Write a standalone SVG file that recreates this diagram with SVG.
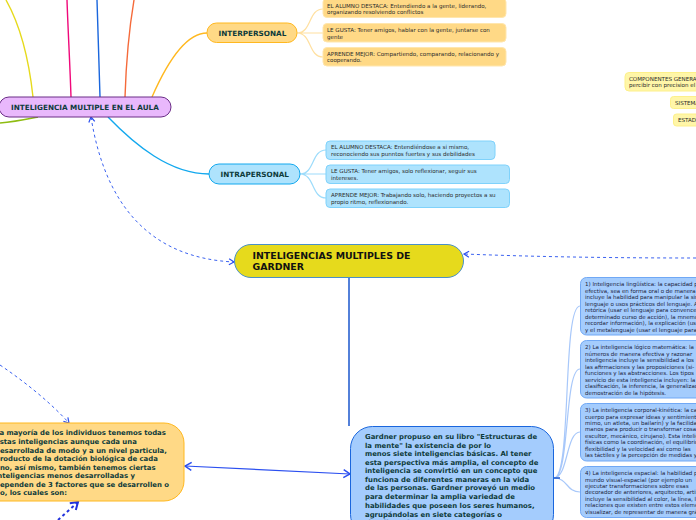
<svg xmlns="http://www.w3.org/2000/svg" width="696" height="520" viewBox="0 0 696 520">
<style>
text{font-family:"DejaVu Sans",Verdana,sans-serif}
.b{font-weight:700;fill:#0e3b3b}
.m{font-size:7.25px}
.t{font-size:7.25px}
.h{font-size:9.4px;font-weight:700;fill:#111}
.g{font-size:6.9px;font-weight:700;fill:#0e3b3b}
.s{font-size:5.55px;fill:#2a2a2a}
.r{font-size:5.5px;fill:#1c2440}
.n{fill:none}
.o{fill:#ffd986;stroke:#ffe6ae;stroke-width:1}
.c{fill:#aee3fd;stroke:#7fd2fb;stroke-width:1}
.u{fill:#a4ccfd;stroke:#70a8f5;stroke-width:1}
.y{fill:#fff6a8;stroke:#fdf08a;stroke-width:1}
.d{fill:none;stroke:#3b62f0;stroke-width:1;stroke-dasharray:3 3}
</style>
<defs>
<marker id="a" markerWidth="8" markerHeight="8" refX="6" refY="4" orient="auto-start-reverse" markerUnits="userSpaceOnUse"><path d="M1 1L6 4L1 7" fill="none" stroke="#2b4ff0" stroke-width="1.2"/></marker>
<marker id="as" markerWidth="10" markerHeight="10" refX="8" refY="5" orient="auto-start-reverse" markerUnits="userSpaceOnUse"><path d="M1.500 1L8 5L1.500 9" fill="none" stroke="#2b4ff0" stroke-width="1.500"/></marker>
<marker id="at" markerWidth="12" markerHeight="12" refX="9" refY="6" orient="auto" markerUnits="userSpaceOnUse"><path d="M2 1.500L9 6L2 10.500" fill="none" stroke="#2233dd" stroke-width="2"/></marker>
</defs>
<g id="connectors">
<path class="n" stroke="#e6da1c" stroke-width="1.400" d="M6 0C20 25 29 60 33 97"/>
<path class="n" stroke="#f0087a" stroke-width="1.400" d="M67 0C68 30 70 65 71 97"/>
<path class="n" stroke="#1a66dd" stroke-width="1.400" d="M97 0C98 30 99 65 100 97"/>
<path class="n" stroke="#f56a3a" stroke-width="1.400" d="M134 0C129 30 126 65 125 97"/>
<path class="n" stroke="#ffb81f" stroke-width="1.400" d="M152 97C166 65 185 33 207 33"/>
<path class="n" stroke="#8ebc12" stroke-width="1.400" d="M0 123C14 122 28 119 38 117"/>
<path class="n" stroke="#12a8ee" stroke-width="1.400" d="M108 117C135 145 170 174 209 174"/>
<path class="n" stroke="#ffe0a0" stroke-width="1.200" d="M297 33C312 33 308 9 323 9M297 33H323M297 33C312 33 308 57 323 57"/>
<path class="n" stroke="#9ddcfb" stroke-width="1.200" d="M300 174C315 174 311 150 326 150M300 174H326M300 174C315 174 311 198 326 198"/>
<path class="n" stroke="#1a56cc" stroke-width="1.500" d="M349 277V426"/>
<path class="n" stroke="#a8c8fa" stroke-width="1.200" d="M554 478C572 478 562 306 580 306M554 478C570 478 564 369 580 369M554 478C568 478 566 432 580 432M554 478C568 478 566 492 580 492"/>
<path class="n" stroke="#1a56cc" stroke-width="1.500" d="M554 478H560"/>
<path class="d" marker-start="url(#a)" marker-end="url(#a)" d="M91 117C105 205 150 258 234 262"/>
<path class="d" marker-end="url(#a)" d="M696 258C620 258 540 257 464 254"/>
<path class="d" marker-end="url(#a)" d="M0 365C25 382 50 402 69 423"/>
<path class="n" stroke="#2b4ff0" stroke-width="1.200" marker-start="url(#as)" marker-end="url(#as)" d="M185 466L350 474"/>
<path fill="none" stroke="#2233dd" stroke-width="2" stroke-dasharray="3 3" marker-end="url(#at)" d="M58 520L78 502"/>
</g>
<g id="n-aula"><rect x="-1" y="97" width="172" height="20" rx="10" fill="#e9b8fc" stroke="#6a2c86"/><text class="b m" x="11" y="109.500">INTELIGENCIA MULTIPLE EN EL AULA</text></g>
<g id="n-inter"><rect x="207" y="23" width="90" height="19.500" rx="9.500" fill="#ffd986" stroke="#ffb81f"/><text class="b t" x="218.500" y="35.500">INTERPERSONAL</text></g>
<g id="n-inter1"><rect class="o" x="323" y="-2" width="183" height="19.500" rx="4"/><text class="s" x="327" y="8">EL ALUMNO DESTACA: Entendiendo a la gente, liderando,</text><text class="s" x="327" y="14">organizando resolviendo conflictos</text></g>
<g id="n-inter2"><rect class="o" x="323" y="23.500" width="183" height="18.500" rx="4"/><text class="s" x="327" y="32">LE GUSTA: Tener amigos, hablar con la gente, juntarse con</text><text class="s" x="327" y="38.500">gente</text></g>
<g id="n-inter3"><rect class="o" x="323" y="47.500" width="183" height="18.500" rx="4"/><text class="s" x="327" y="56">APRENDE MEJOR: Compartiendo, comparando, relacionando y</text><text class="s" x="327" y="62">cooperando.</text></g>
<g id="n-intra"><rect x="209" y="164" width="91" height="20" rx="10" fill="#aee3fd" stroke="#12a8ee"/><text class="b t" x="220.500" y="177">INTRAPERSONAL</text></g>
<g id="n-intra1"><rect class="c" x="326" y="141" width="169" height="18.500" rx="4"/><text class="s" x="331" y="149">EL ALUMNO DESTACA: Entendiéndose a si mismo,</text><text class="s" x="331" y="156">reconociendo sus punntos fuertes y sus debilidades</text></g>
<g id="n-intra2"><rect class="c" x="326" y="165" width="183.500" height="18.500" rx="4"/><text class="s" x="331" y="173">LE GUSTA: Tener amigos, solo reflexionar, seguir sus</text><text class="s" x="331" y="180">intereses.</text></g>
<g id="n-intra3"><rect class="c" x="326" y="189" width="183.500" height="18.500" rx="4"/><text class="s" x="331" y="197">APRENDE MEJOR: Trabajando solo, haciendo proyectos a su</text><text class="s" x="331" y="204">propio ritmo, reflexionando.</text></g>
<g id="n-comp"><rect class="y" x="625" y="72.500" width="90" height="18.500" rx="4"/><text class="s" x="629" y="80.500">COMPONENTES GENERALES</text><text class="s" x="629" y="87">percibir con precision el</text></g>
<g id="n-sist"><rect class="y" x="670.500" y="96.500" width="40" height="12" rx="3"/><text class="s" x="675" y="105">SISTEMA</text></g>
<g id="n-esta"><rect class="y" x="673.500" y="114" width="40" height="12" rx="3"/><text class="s" x="678" y="122">ESTADO</text></g>
<g id="n-title"><rect x="234.500" y="244.500" width="229" height="33" rx="16.500" fill="#e6da1c" stroke="#4a90c8"/><text class="h" x="252.500" y="259">INTELIGENCIAS MULTIPLES DE</text><text class="h" x="252.500" y="270">GARDNER</text></g>
<g id="n-gardner"><rect x="350.500" y="426.500" width="203" height="110" rx="22" fill="#a4ccfd" stroke="#1a66dd"/>
<text class="g"><tspan x="365" y="439">Gardner propuso en su libro "Estructuras de</tspan><tspan x="365" y="447.500">la mente" la existencia de por lo</tspan><tspan x="365" y="456">menos siete inteligencias básicas. Al tener</tspan><tspan x="365" y="465">esta perspectiva más amplia, el concepto de</tspan><tspan x="365" y="473">inteligencia se convirtió en un concepto que</tspan><tspan x="365" y="482">funciona de diferentes maneras en la vida</tspan><tspan x="365" y="490">de las personas. Gardner proveyó un medio</tspan><tspan x="365" y="499">para determinar la amplia variedad de</tspan><tspan x="365" y="507.500">habilidades que poseen los seres humanos,</tspan><tspan x="365" y="516.500">agrupándolas en siete categorías o</tspan><tspan x="365" y="525">"inteligencias".</tspan></text></g>
<g id="n-mayoria"><rect x="-40" y="423" width="224" height="78" rx="20" fill="#ffd986" stroke="#ffb81f"/>
<text class="g"><tspan x="-5" y="435">La mayoría de los individuos tenemos todas</tspan><tspan x="-5" y="444">estas inteligencias aunque cada una</tspan><tspan x="-5" y="452.500">desarrollada de modo y a un nivel particula,</tspan><tspan x="-5" y="461">producto de la dotación biológica de cada</tspan><tspan x="-5" y="469.500">uno, así mismo, también tenemos ciertas</tspan><tspan x="-5" y="478">inteligencias menos desarrolladas y</tspan><tspan x="-5" y="486.500">dependen de 3 factores que se desarrollen o</tspan><tspan x="-5" y="495">no, los cuales son:</tspan></text></g>
<g id="n-i1"><rect class="u" x="580.500" y="277.500" width="130" height="57.500" rx="6"/><text class="r"><tspan x="585" y="286">1) Inteligencia lingüística: la capacidad para</tspan><tspan x="585" y="292.500">efectiva, sea en forma oral o de manera</tspan><tspan x="585" y="299">incluye la habilidad para manipular la sintaxis</tspan><tspan x="585" y="305.500">lenguaje o usos prácticos del lenguaje. Algunos</tspan><tspan x="585" y="312">retórica (usar el lenguaje para convencer</tspan><tspan x="585" y="318.500">determinado curso de acción), la mnemónica</tspan><tspan x="585" y="325">recordar información), la explicación (usar</tspan><tspan x="585" y="331.500">y el metalenguaje (usar el lenguaje para</tspan></text></g>
<g id="n-i2"><rect class="u" x="580.500" y="340.500" width="130" height="57.500" rx="6"/><text class="r"><tspan x="585" y="349">2) La inteligencia lógico matemática: la</tspan><tspan x="585" y="355.500">números de manera efectiva y razonar</tspan><tspan x="585" y="362">inteligencia incluye la sensibilidad a los</tspan><tspan x="585" y="368.500">las afirmaciones y las proposiciones (si-</tspan><tspan x="585" y="375">funciones y las abstracciones. Los tipos</tspan><tspan x="585" y="381.500">servicio de esta inteligencia incluyen: la</tspan><tspan x="585" y="388">clasificación, la inferencia, la generalización</tspan><tspan x="585" y="394.500">demostración de la hipótesis.</tspan></text></g>
<g id="n-i3"><rect class="u" x="580.500" y="403.500" width="130" height="57.500" rx="6"/><text class="r"><tspan x="585" y="412">3) La inteligencia corporal-kinética: la capacidad</tspan><tspan x="585" y="418.500">cuerpo para expresar ideas y sentimientos</tspan><tspan x="585" y="425">mimo, un atleta, un bailarín) y la facilidad</tspan><tspan x="585" y="431">manos para producir o transformar cosas</tspan><tspan x="585" y="437.500">escultor, mecánico, cirujano). Esta inteligencia</tspan><tspan x="585" y="444">físicas como la coordinación, el equilibrio</tspan><tspan x="585" y="450.500">flexibilidad y la velocidad así como las</tspan><tspan x="585" y="457">las táctiles y la percepción de medidas y</tspan></text></g>
<g id="n-i4"><rect class="u" x="580.500" y="466.500" width="130" height="51" rx="6"/><text class="r"><tspan x="585" y="475">4) La inteligencia espacial: la habilidad para</tspan><tspan x="585" y="481.500">mundo visual-espacial (por ejemplo un</tspan><tspan x="585" y="488">ejecutar transformaciones sobre esas</tspan><tspan x="585" y="494">decorador de anteriores, arquitecto, artista</tspan><tspan x="585" y="500.500">incluye la sensibilidad al color, la línea, la</tspan><tspan x="585" y="507">relaciones que existen entre estos elementos</tspan><tspan x="585" y="513.500">visualizar, de representar de manera gráfica</tspan></text></g>
</svg>
